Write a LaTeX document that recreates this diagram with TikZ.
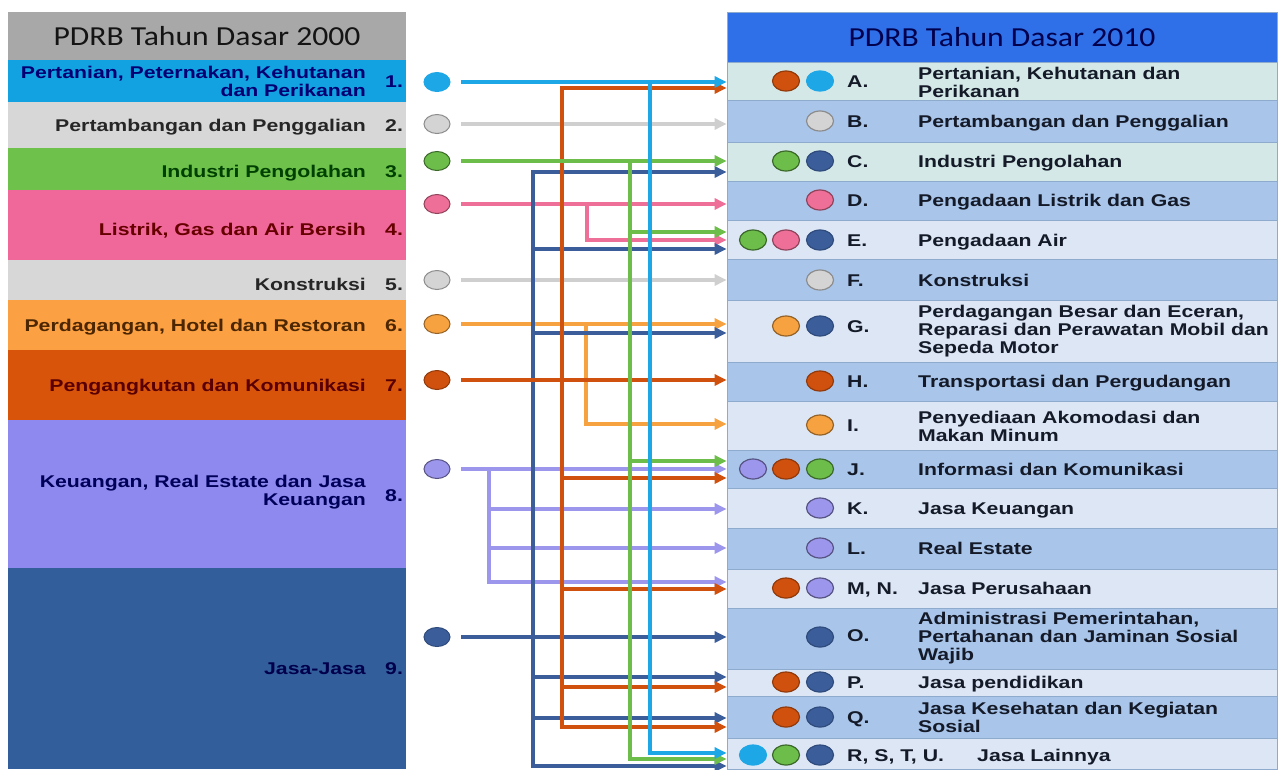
\documentclass[tikz,border=0pt]{standalone}
\usepackage{fontspec}
\usetikzlibrary{shapes.geometric,arrows.meta}
\newfontfamily\labfont[FakeStretch=1.25]{Liberation Sans}
\newfontfamily\hdrfont[FakeStretch=1.15]{Carlito}
\definecolor{skyC}{HTML}{1EA7E6}
\definecolor{grayL}{HTML}{CFCFCF}
\definecolor{grayD}{HTML}{D4D4D4}
\definecolor{greenC}{HTML}{6CBD4A}
\definecolor{pinkC}{HTML}{EE6F98}
\definecolor{orC}{HTML}{F7A240}
\definecolor{dorC}{HTML}{D0510E}
\definecolor{lavC}{HTML}{9C96EC}
\definecolor{navyC}{HTML}{3B5E9B}
\definecolor{hdrL}{HTML}{A8A8A8}
\definecolor{hdrR}{HTML}{2F6FE8}
\definecolor{rowA}{HTML}{12A2E2}
\definecolor{rowB}{HTML}{D7D7D7}
\definecolor{rowC}{HTML}{6EC24B}
\definecolor{rowD}{HTML}{F0679A}
\definecolor{rowF}{HTML}{FBA043}
\definecolor{rowG}{HTML}{D9540B}
\definecolor{rowH}{HTML}{8D89EE}
\definecolor{rowI}{HTML}{325F9B}
\definecolor{paleM}{HTML}{D4E9E7}
\definecolor{paleB}{HTML}{DCE6F5}
\definecolor{midB}{HTML}{A9C5EA}
\definecolor{sepC}{HTML}{8EAACC}
\definecolor{txtR}{HTML}{141A28}
\begin{document}
\begin{tikzpicture}[x=1pt,y=-1pt,
  lbl/.style={font=\labfont\bfseries\fontsize{17}{18}\selectfont, inner sep=0pt},
  one/.style={text height=12.2pt, text depth=0pt},
  ltxt/.style={lbl, anchor=east, align=right},
  lnum/.style={lbl, one, anchor=west},
  rtxt/.style={lbl, anchor=west, align=left, text=txtR},
  rlet/.style={lbl, one, anchor=west, text=txtR},
  hdr/.style={font=\hdrfont\fontsize{27.5}{30}\selectfont, inner sep=0pt},
  rrow/.style={draw=sepC, line width=0.8pt, minimum width=550pt, inner sep=0pt},
  dotL/.style={ellipse, minimum width=26pt, minimum height=19pt, inner sep=0pt, line width=1pt},
  dotR/.style={ellipse, minimum width=27pt, minimum height=20pt, inner sep=0pt, line width=1.2pt},
  ln/.style={line width=3.2pt, line cap=rect},
  arr/.style={ln, -{Triangle[length=12pt,width=11pt]}}
]
\useasboundingbox (0,0) rectangle (1284,769);
\fill[white] (0,0) rectangle (1284,769);

% ---------------- left column ----------------
\fill[hdrL] (8,12) rectangle (406,60);
\fill[rowA] (8,60) rectangle (406,102);
\fill[rowB] (8,102) rectangle (406,148);
\fill[rowC] (8,148) rectangle (406,190);
\fill[rowD] (8,190) rectangle (406,260);
\fill[rowB] (8,260) rectangle (406,300);
\fill[rowF] (8,300) rectangle (406,350);
\fill[rowG] (8,350) rectangle (406,420);
\fill[rowH] (8,420) rectangle (406,568);
\fill[rowI] (8,568) rectangle (406,769);

\node[hdr, text=black!92, text height=19pt, text depth=0pt] (hL) at (207,36) {PDRB Tahun Dasar 2000};
\node[ltxt, text=blue!45!black] (L1) at (366,81) {Pertanian, Peternakan, Kehutanan\\dan Perikanan};
\node[lnum, text=blue!45!black] (N1) at (385,81) {1.};
\node[ltxt, one, text=black!85] (L2) at (366,125) {Pertambangan dan Penggalian};
\node[lnum, text=black!85] (N2) at (385,125) {2.};
\node[ltxt, one, text=green!25!black] (L3) at (366,171) {Industri Pengolahan};
\node[lnum, text=green!25!black] (N3) at (385,171) {3.};
\node[ltxt, one, text=red!40!black] (L4) at (366,229) {Listrik, Gas dan Air Bersih};
\node[lnum, text=red!40!black] (N4) at (385,229) {4.};
\node[ltxt, one, text=black!85] (L5) at (366,284) {Konstruksi};
\node[lnum, text=black!85] (N5) at (385,284) {5.};
\node[ltxt, one, text=orange!30!black] (L6) at (366,325) {Perdagangan, Hotel dan Restoran};
\node[lnum, text=orange!30!black] (N6) at (385,325) {6.};
\node[ltxt, one, text=red!35!black] (L7) at (366,385) {Pengangkutan dan Komunikasi};
\node[lnum, text=red!35!black] (N7) at (385,385) {7.};
\node[ltxt, text=blue!35!black] (L8) at (366,492) {Keuangan, Real Estate dan Jasa\\Keuangan};
\node[lnum, text=blue!35!black] (N8) at (385,495) {8.};
\node[ltxt, one, text=blue!30!black] (L9) at (366,668) {Jasa-Jasa};
\node[lnum, text=blue!30!black] (N9) at (385,668) {9.};

% ---------------- right column ----------------
\fill[hdrR] (727,12) rectangle (1277,62);
\node[hdr, text=blue!30!black, text height=19pt, text depth=0pt] (hR) at (1002,37) {PDRB Tahun Dasar 2010};
\node[rrow, fill=paleM, minimum height=38pt] (rA) at (1002,81) {};
\node[rrow, fill=midB,  minimum height=42pt] (rB) at (1002,121) {};
\node[rrow, fill=paleM, minimum height=39pt] (rC) at (1002,161.5) {};
\node[rrow, fill=midB,  minimum height=39pt] (rD) at (1002,200.5) {};
\node[rrow, fill=paleB, minimum height=39pt] (rE) at (1002,239.5) {};
\node[rrow, fill=midB,  minimum height=41pt] (rF) at (1002,279.5) {};
\node[rrow, fill=paleB, minimum height=62pt] (rG) at (1002,331) {};
\node[rrow, fill=midB,  minimum height=39pt] (rH) at (1002,381.5) {};
\node[rrow, fill=paleB, minimum height=49pt] (rI) at (1002,425.5) {};
\node[rrow, fill=midB,  minimum height=38pt] (rJ) at (1002,469) {};
\node[rrow, fill=paleB, minimum height=40pt] (rK) at (1002,508) {};
\node[rrow, fill=midB,  minimum height=41pt] (rL) at (1002,548.5) {};
\node[rrow, fill=paleB, minimum height=39pt] (rM) at (1002,588.5) {};
\node[rrow, fill=midB,  minimum height=61pt] (rO) at (1002,638.5) {};
\node[rrow, fill=paleB, minimum height=27pt] (rP) at (1002,682.5) {};
\node[rrow, fill=midB,  minimum height=42pt] (rQ) at (1002,717) {};
\node[rrow, fill=paleB, minimum height=31pt] (rU) at (1002,753.5) {};
\draw[sepC, line width=1pt] (727,12) rectangle (1277,769);

% letters and descriptions
\node[rlet] (lA) at (847,81) {A.};
\node[rtxt] (tA) at (918,82) {Pertanian, Kehutanan dan\\Perikanan};
\node[rlet] (lB) at (847,121) {B.};
\node[rtxt, one] (tB) at (918,121) {Pertambangan dan Penggalian};
\node[rlet] (lC) at (847,161) {C.};
\node[rtxt, one] (tC) at (918,161) {Industri Pengolahan};
\node[rlet] (lD) at (847,200) {D.};
\node[rtxt, one] (tD) at (918,200) {Pengadaan Listrik dan Gas};
\node[rlet] (lE) at (847,240) {E.};
\node[rtxt, one] (tE) at (918,240) {Pengadaan Air};
\node[rlet] (lF) at (847,280) {F.};
\node[rtxt, one] (tF) at (918,280) {Konstruksi};
\node[rlet] (lG) at (847,326) {G.};
\node[rtxt] (tG) at (918,331) {Perdagangan Besar dan Eceran,\\Reparasi dan Perawatan Mobil dan\\Sepeda Motor};
\node[rlet] (lH) at (847,381) {H.};
\node[rtxt, one] (tH) at (918,381) {Transportasi dan Pergudangan};
\node[rlet] (lI) at (847,425) {I.};
\node[rtxt] (tI) at (918,426) {Penyediaan Akomodasi dan\\Makan Minum};
\node[rlet] (lJ) at (847,469) {J.};
\node[rtxt, one] (tJ) at (918,469) {Informasi dan Komunikasi};
\node[rlet] (lK) at (847,508) {K.};
\node[rtxt, one] (tK) at (918,508) {Jasa Keuangan};
\node[rlet] (lL) at (847,548) {L.};
\node[rtxt, one] (tL) at (918,548) {Real Estate};
\node[rlet] (lM) at (847,588) {M, N.};
\node[rtxt, one] (tM) at (918,588) {Jasa Perusahaan};
\node[rlet] (lO) at (847,635) {O.};
\node[rtxt] (tO) at (918,638) {Administrasi Pemerintahan,\\Pertahanan dan Jaminan Sosial\\Wajib};
\node[rlet] (lP) at (847,682) {P.};
\node[rtxt, one] (tP) at (918,682) {Jasa pendidikan};
\node[rlet] (lQ) at (847,717) {Q.};
\node[rtxt] (tQ) at (918,717) {Jasa Kesehatan dan Kegiatan\\Sosial};
\node[rlet] (lU) at (847,755) {R, S, T, U.};
\node[rtxt, one] (tU) at (977,755) {Jasa Lainnya};

% circles in right column
\node[dotR, fill=dorC, draw=dorC!70!black] (cA1) at (786,81) {};
\node[dotR, fill=skyC, draw=skyC] (cA2) at (820,81) {};
\node[dotR, fill=grayD, draw=black!45] (cB1) at (820,121) {};
\node[dotR, fill=greenC, draw=greenC!55!black] (cC1) at (786,161) {};
\node[dotR, fill=navyC, draw=navyC!80!black] (cC2) at (820,161) {};
\node[dotR, fill=pinkC, draw=pinkC!60!black] (cD1) at (820,200) {};
\node[dotR, fill=greenC, draw=greenC!55!black] (cE1) at (753,240) {};
\node[dotR, fill=pinkC, draw=pinkC!60!black] (cE2) at (786,240) {};
\node[dotR, fill=navyC, draw=navyC!80!black] (cE3) at (820,240) {};
\node[dotR, fill=grayD, draw=black!45] (cF1) at (820,280) {};
\node[dotR, fill=orC, draw=orC!60!black] (cG1) at (786,326) {};
\node[dotR, fill=navyC, draw=navyC!80!black] (cG2) at (820,326) {};
\node[dotR, fill=dorC, draw=dorC!70!black] (cH1) at (820,381) {};
\node[dotR, fill=orC, draw=orC!60!black] (cI1) at (820,425) {};
\node[dotR, fill=lavC, draw=lavC!55!black] (cJ1) at (753,469) {};
\node[dotR, fill=dorC, draw=dorC!70!black] (cJ2) at (786,469) {};
\node[dotR, fill=greenC, draw=greenC!55!black] (cJ3) at (820,469) {};
\node[dotR, fill=lavC, draw=lavC!55!black] (cK1) at (820,508) {};
\node[dotR, fill=lavC, draw=lavC!55!black] (cL1) at (820,548) {};
\node[dotR, fill=dorC, draw=dorC!70!black] (cM1) at (786,588) {};
\node[dotR, fill=lavC, draw=lavC!55!black] (cM2) at (820,588) {};
\node[dotR, fill=navyC, draw=navyC!80!black] (cO1) at (820,637) {};
\node[dotR, fill=dorC, draw=dorC!70!black] (cP1) at (786,682) {};
\node[dotR, fill=navyC, draw=navyC!80!black] (cP2) at (820,682) {};
\node[dotR, fill=dorC, draw=dorC!70!black] (cQ1) at (786,717) {};
\node[dotR, fill=navyC, draw=navyC!80!black] (cQ2) at (820,717) {};
\node[dotR, fill=skyC, draw=skyC] (cU1) at (753,755) {};
\node[dotR, fill=greenC, draw=greenC!55!black] (cU2) at (786,755) {};
\node[dotR, fill=navyC, draw=navyC!80!black] (cU3) at (820,755) {};

% ---------------- source dots ----------------
\node[dotL, fill=skyC, draw=skyC] (d1) at (437,82) {};
\node[dotL, fill=grayD, draw=black!45] (d2) at (437,124) {};
\node[dotL, fill=greenC, draw=greenC!55!black] (d3) at (437,161) {};
\node[dotL, fill=pinkC, draw=pinkC!60!black] (d4) at (437,204) {};
\node[dotL, fill=grayD, draw=black!45] (d5) at (437,280) {};
\node[dotL, fill=orC, draw=orC!60!black] (d6) at (437,324) {};
\node[dotL, fill=dorC, draw=dorC!70!black] (d7) at (437,380) {};
\node[dotL, fill=lavC, draw=lavC!55!black] (d8) at (437,469) {};
\node[dotL, fill=navyC, draw=navyC!80!black] (d9) at (437,637) {};

% junction coordinates
\coordinate (v0) at (489,469); \coordinate (v1) at (489,509);
\coordinate (v2) at (489,548); \coordinate (v3) at (489,582);
\coordinate (p0) at (587,204); \coordinate (p1) at (587,240);
\coordinate (q0) at (586,324); \coordinate (q1) at (586,424);
\coordinate (n0) at (533,172); \coordinate (n1) at (533,249);
\coordinate (n2) at (533,333); \coordinate (n3) at (533,677);
\coordinate (n4) at (533,718); \coordinate (n5) at (533,766);
\coordinate (o0) at (562,88);  \coordinate (o1) at (562,478);
\coordinate (o2) at (562,589); \coordinate (o3) at (562,687);
\coordinate (o4) at (562,727);
\coordinate (g0) at (630,161); \coordinate (g1) at (630,232);
\coordinate (g2) at (630,461); \coordinate (g3) at (630,759);
\coordinate (s0) at (650,82);  \coordinate (s1) at (650,753);

% ---------------- connectors ----------------
% gray
\draw[arr,grayL] ([xshift=12pt]d2.east) -- (d2 -| rB.west);
\draw[arr,grayL] ([xshift=12pt]d5.east) -- (d5 -| rF.west);
% lavender
\draw[arr,lavC] ([xshift=12pt]d8.east) -- (d8 -| rJ.west);
\draw[ln,lavC] (v0) -- (v3);
\draw[arr,lavC] (v1) -- (v1 -| rK.west);
\draw[arr,lavC] (v2) -- (v2 -| rL.west);
\draw[arr,lavC] (v3) -- (v3 -| rM.west);
% pink
\draw[arr,pinkC] ([xshift=12pt]d4.east) -- (d4 -| rD.west);
\draw[arr,pinkC] (p0) -- (p1) -- (p1 -| rE.west);
% light orange
\draw[arr,orC] ([xshift=12pt]d6.east) -- (d6 -| rG.west);
\draw[arr,orC] (q0) -- (q1) -- (q1 -| rI.west);
% navy
\draw[arr,navyC] ([xshift=12pt]d9.east) -- (d9 -| rO.west);
\draw[ln,navyC] (n0) -- (n5);
\draw[arr,navyC] (n0) -- (n0 -| rC.west);
\draw[arr,navyC] (n1) -- (n1 -| rE.west);
\draw[arr,navyC] (n2) -- (n2 -| rG.west);
\draw[arr,navyC] (n3) -- (n3 -| rP.west);
\draw[arr,navyC] (n4) -- (n4 -| rQ.west);
\draw[arr,navyC] (n5) -- (n5 -| rU.west);
% dark orange
\draw[arr,dorC] ([xshift=12pt]d7.east) -- (d7 -| rH.west);
\draw[ln,dorC] (o0) -- (o4);
\draw[arr,dorC] (o0) -- (o0 -| rA.west);
\draw[arr,dorC] (o1) -- (o1 -| rJ.west);
\draw[arr,dorC] (o2) -- (o2 -| rM.west);
\draw[arr,dorC] (o3) -- (o3 -| rP.west);
\draw[arr,dorC] (o4) -- (o4 -| rQ.west);
% green
\draw[arr,greenC] ([xshift=12pt]d3.east) -- (d3 -| rC.west);
\draw[ln,greenC] (g0) -- (g3);
\draw[arr,greenC] (g1) -- (g1 -| rE.west);
\draw[arr,greenC] (g2) -- (g2 -| rJ.west);
\draw[arr,greenC] (g3) -- (g3 -| rU.west);
% sky blue
\draw[arr,skyC] ([xshift=12pt]d1.east) -- (d1 -| rA.west);
\draw[arr,skyC] (s0) -- (s1) -- (s1 -| rU.west);
\end{tikzpicture}
\end{document}
